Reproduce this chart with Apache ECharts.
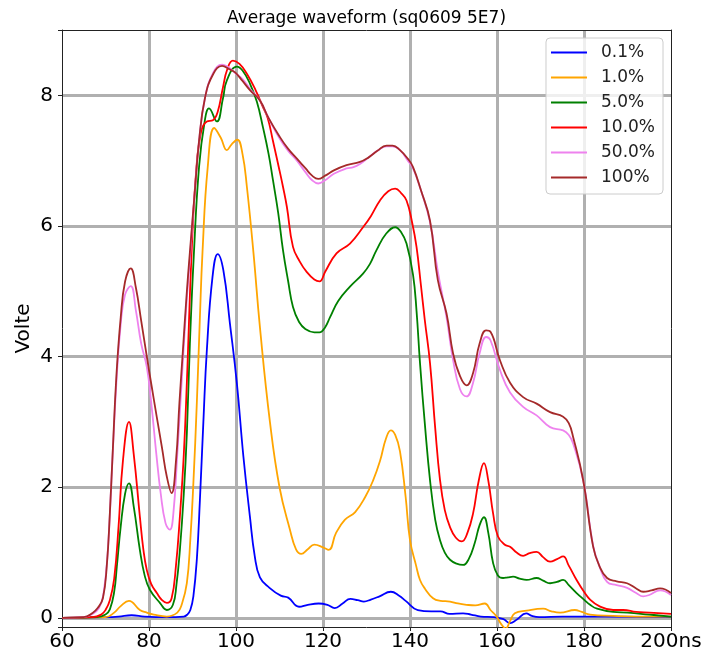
<!DOCTYPE html>
<html>
<head>
<meta charset="utf-8">
<script src="https://cdn.jsdelivr.net/npm/echarts@6/dist/echarts.min.js"></script>
<style>
  html, body { margin: 0; padding: 0; background: #fff; }
  #main { width: 707px; height: 654px; }
</style>
</head>
<body>
<div id="main"></div>
<script>
// legend names and colours
var names = ['0.1%', '1.0%', '5.0%', '10.0%', '50.0%', '100%'];
var colors = ['#0000ff', '#ffa500', '#008000', '#ff0000', '#ee82ee', '#a52a2a'];

// 0.1%
var tBlue = [60, 70, 73, 76, 79, 84, 88, 88.8, 89.5, 90.2, 91, 91.7, 92.5, 93.3, 94.6, 95.8, 97.1, 98.6, 100.2, 101.7, 103.2, 104.3, 105.5, 107.7, 110.3, 112, 114.5, 116.5, 119, 121, 122.7, 124.5, 126.3, 128, 129.4, 131, 133, 135.6, 137.5, 139, 141.8, 144.9, 147, 149.1, 152.2, 154, 156.3, 159.3, 161.5, 163, 164.5, 166.7, 168, 169.7, 175, 185, 200];
var vBlue = [0, 0.01, 0.02, 0.04, 0.02, 0.01, 0.02, 0.05, 0.12, 0.33, 0.9, 1.8, 3.0, 4.1, 5.22, 5.57, 5.32, 4.51, 3.59, 2.47, 1.55, 0.95, 0.62, 0.46, 0.34, 0.31, 0.17, 0.2, 0.22, 0.2, 0.15, 0.22, 0.29, 0.27, 0.25, 0.28, 0.33, 0.4, 0.34, 0.26, 0.12, 0.1, 0.1, 0.06, 0.07, 0.05, 0.02, 0.01, -0.02, -0.08, -0.03, 0.07, 0.03, 0.01, 0.02, 0.02, 0.01];

// 1.0%
var tOrange = [60, 70, 72, 73.5, 75.4, 77.9, 79.5, 81.1, 84.1, 86.5, 87.5, 88.7, 89.5, 90.2, 91, 91.7, 92.3, 93.5, 95, 96.5, 97.9, 99, 100.3, 101.5, 102.5, 104, 105.5, 107.8, 110, 112.4, 113.8, 115, 116.5, 118, 120, 121.3, 123, 125, 127.4, 129.7, 131.5, 133.1, 134.5, 135.6, 136.6, 137.7, 139, 140, 141.4, 142.3, 143.4, 145.3, 147, 149.2, 151, 153, 155, 157.2, 158.5, 159.9, 161, 162, 163, 164.1, 166.8, 170.6, 172.5, 174.5, 177.9, 179.5, 181.4, 186.7, 192, 200];
var vOrange = [0, 0.01, 0.08, 0.18, 0.26, 0.12, 0.08, 0.05, 0.02, 0.08, 0.2, 0.53, 1.2, 2.06, 3.3, 4.6, 5.6, 6.9, 7.5, 7.35, 7.16, 7.25, 7.32, 7.1, 6.6, 5.6, 4.45, 3.0, 2.0, 1.35, 1.05, 0.98, 1.05, 1.12, 1.08, 1.04, 1.3, 1.5, 1.62, 1.85, 2.1, 2.4, 2.75, 2.87, 2.8, 2.55, 1.85, 1.19, 0.8, 0.58, 0.45, 0.3, 0.26, 0.25, 0.22, 0.2, 0.19, 0.22, 0.12, 0.02, -0.1, -0.16, -0.05, 0.07, 0.11, 0.14, 0.1, 0.08, 0.12, 0.09, 0.05, 0.03, 0.02, 0.02];

// 5.0%
var tGreen = [60, 68, 70, 71, 72, 72.6, 73.5, 74.5, 75.4, 76.5, 77.9, 79, 80.2, 82.5, 84.1, 85.5, 86.3, 87.1, 88, 88.7, 89.4, 90.3, 91.5, 92.8, 93.8, 95.6, 97, 97.9, 100.2, 101.5, 103.2, 104.8, 106.2, 107.5, 108.5, 109.7, 110.8, 112, 113.1, 114.5, 116, 118, 119.2, 120.5, 121.6, 123.5, 126.2, 129.2, 130.8, 132.3, 134.5, 136.6, 138, 139.2, 140.7, 141.5, 142.3, 143.5, 144.6, 145.8, 146.9, 148, 149.2, 150.7, 152.2, 153.5, 154.9, 156, 157, 158, 159.1, 160.2, 161.4, 162.5, 163.7, 165.2, 166.8, 169.1, 170.6, 172.2, 173.8, 175.2, 176.5, 178.3, 180, 181.4, 183, 186.7, 190, 195, 200];
var vGreen = [0, 0.01, 0.05, 0.13, 0.4, 0.78, 1.4, 1.9, 2.06, 1.7, 1.04, 0.65, 0.43, 0.23, 0.12, 0.2, 0.5, 1.04, 1.9, 2.82, 4.2, 5.55, 6.9, 7.6, 7.8, 7.6, 7.95, 8.23, 8.44, 8.38, 8.18, 7.9, 7.51, 7.1, 6.7, 6.2, 5.63, 5.15, 4.76, 4.53, 4.42, 4.37, 4.37, 4.45, 4.6, 4.85, 5.07, 5.27, 5.42, 5.63, 5.88, 5.98, 5.9, 5.73, 5.25, 4.7, 3.9, 2.9, 2.11, 1.5, 1.19, 1.0, 0.89, 0.83, 0.81, 0.9, 1.15, 1.42, 1.54, 1.3, 0.84, 0.65, 0.61, 0.62, 0.63, 0.6, 0.58, 0.61, 0.57, 0.53, 0.55, 0.58, 0.5, 0.38, 0.28, 0.2, 0.14, 0.09, 0.08, 0.05, 0.02];

// 10.0%
var tRed = [60, 67, 69, 70, 71, 72, 73, 74, 75.4, 76.5, 77.9, 78.7, 79.5, 80.5, 81.8, 83, 84.1, 85.2, 86.2, 87.1, 88, 88.7, 89.8, 90.8, 92, 93.3, 94.7, 95.8, 97, 98, 99.3, 100.8, 102.5, 104.5, 106.2, 107.3, 108.5, 110, 110.8, 111.7, 113.1, 114.7, 116.2, 118, 119.2, 120.5, 123.1, 126.2, 129.2, 131, 133.1, 135, 136.6, 138, 139.2, 140.5, 141.5, 142.5, 143.4, 144.6, 145.8, 146.9, 148, 149.2, 150.5, 151.9, 153.2, 154.5, 155.8, 157, 158, 159.1, 160.2, 161.8, 163, 164.5, 166, 167.5, 169.1, 170.6, 172.2, 173.8, 175.2, 176.5, 178.3, 180, 181.4, 183.5, 186.7, 189, 192, 195, 200];
var vRed = [0, 0.01, 0.05, 0.12, 0.27, 0.6, 1.4, 2.4, 3.0, 2.5, 1.55, 1.05, 0.73, 0.52, 0.38, 0.27, 0.23, 0.3, 0.8, 1.55, 2.5, 3.6, 5.6, 6.8, 7.45, 7.6, 7.62, 7.75, 8.12, 8.4, 8.53, 8.48, 8.33, 8.08, 7.82, 7.65, 7.3, 6.85, 6.6, 6.29, 5.68, 5.45, 5.3, 5.18, 5.15, 5.3, 5.58, 5.73, 5.98, 6.15, 6.39, 6.53, 6.57, 6.5, 6.39, 6.05, 5.68, 5.1, 4.56, 3.9, 2.9, 2.11, 1.65, 1.39, 1.23, 1.17, 1.3, 1.6, 2.1, 2.37, 2.1, 1.6, 1.25, 1.12, 1.09, 1.0, 0.95, 0.99, 1.01, 0.93, 0.86, 0.9, 0.94, 0.8, 0.58, 0.4, 0.28, 0.18, 0.12, 0.12, 0.09, 0.08, 0.06];

// 50.0%
var tViolet = [60, 65, 67, 68.5, 69.5, 70.5, 71.5, 72.5, 73.5, 74.5, 75.8, 77, 78.2, 79.5, 80.5, 81.7, 82.7, 83.8, 84.8, 85.6, 86.5, 87.5, 88.5, 89.4, 90.5, 91.5, 92.9, 94.8, 96.8, 98.5, 100, 101.5, 103.2, 105.5, 107.5, 110.1, 112, 114, 116, 117.5, 118.9, 120.5, 122.5, 125.4, 127, 128.5, 130.5, 132.5, 134.6, 136, 137.7, 139.5, 140.7, 142.5, 144.6, 146.4, 148.4, 149.9, 151.5, 153, 154.5, 156, 157.5, 158.5, 160.7, 163, 166, 169.1, 172.2, 175.2, 176.5, 177.5, 179.8, 182.1, 183.5, 185.3, 187.5, 189.9, 192, 193.6, 195, 197.5, 200];
var vViolet = [0, 0.01, 0.06, 0.15, 0.35, 1.0, 2.3, 3.6, 4.5, 4.95, 5.08, 4.7, 4.2, 3.84, 3.3, 2.5, 1.9, 1.45, 1.35, 1.6, 2.5, 3.6, 4.7, 5.5, 6.5, 7.3, 7.97, 8.35, 8.47, 8.42, 8.33, 8.25, 8.1, 7.92, 7.65, 7.33, 7.15, 7.0, 6.82, 6.7, 6.65, 6.7, 6.8, 6.88, 6.9, 6.95, 7.05, 7.15, 7.22, 7.22, 7.16, 7.0, 6.88, 6.55, 6.06, 5.3, 4.6, 3.95, 3.5, 3.39, 3.6, 4.05, 4.3, 4.25, 3.79, 3.45, 3.23, 3.1, 2.92, 2.87, 2.8, 2.67, 2.11, 1.1, 0.8, 0.55, 0.5, 0.46, 0.38, 0.33, 0.35, 0.42, 0.35];

// 100%
var tBrown = [60, 65, 67.1, 68.2, 69.4, 70.3, 71, 71.7, 72.5, 73.5, 74.5, 75.8, 77, 78.2, 79.5, 80.6, 81.8, 83, 84.1, 85.2, 86.2, 87, 87.8, 88.6, 89.4, 90.5, 91.5, 92.9, 94.8, 96.8, 98.5, 99.8, 101.5, 103.2, 105.5, 107.5, 110.1, 112, 114, 116, 117.5, 118.9, 120.5, 122.5, 125.4, 128.5, 130.5, 132.5, 134.6, 136, 137.7, 139.5, 140.7, 142.5, 144.6, 146.4, 148.4, 149.9, 151.5, 153, 154.5, 156, 157.5, 158.5, 160.7, 163, 166, 169.1, 172.2, 175.2, 176.5, 177.5, 179.8, 182.1, 183.5, 185.3, 187.5, 189.9, 192, 193.6, 195.5, 197.5, 200];
var vBrown = [0, 0.01, 0.08, 0.15, 0.3, 0.8, 1.6, 2.6, 3.7, 4.6, 5.15, 5.35, 5.05, 4.55, 4.0, 3.55, 3.07, 2.6, 2.16, 1.91, 2.4, 3.3, 4.1, 4.9, 5.6, 6.5, 7.3, 7.97, 8.33, 8.45, 8.4, 8.35, 8.22, 8.08, 7.92, 7.65, 7.36, 7.18, 7.03, 6.88, 6.77, 6.72, 6.77, 6.85, 6.93, 6.98, 7.05, 7.15, 7.23, 7.23, 7.16, 7.03, 6.9, 6.55, 6.08, 5.17, 4.66, 4.05, 3.7, 3.56, 3.75, 4.2, 4.4, 4.38, 3.94, 3.6, 3.38, 3.28, 3.15, 3.08, 2.98, 2.77, 2.11, 1.09, 0.8, 0.61, 0.56, 0.53, 0.45, 0.4, 0.42, 0.45, 0.38];

var allT = [tBlue, tOrange, tGreen, tRed, tViolet, tBrown];
var allV = [vBlue, vOrange, vGreen, vRed, vViolet, vBrown];

var font = 'DejaVu Sans';
var chart = echarts.init(document.getElementById('main'));

var series = names.map(function (n, i) {
  return {
    name: n,
    type: 'line',
    smooth: 0.45,
    symbol: 'none',
    clip: true,
    color: colors[i],
    lineStyle: { width: 1.8, color: colors[i] },
    data: allT[i].map(function (t, k) { return [t, allV[i][k]]; })
  };
});

var option = {
  backgroundColor: '#fff',
  animation: false,
  title: {
    text: 'Average waveform (sq0609 5E7)',
    left: 222,
    top: 5,
    textStyle: { fontFamily: font, fontSize: 17, fontWeight: 'normal', color: '#000' }
  },
  legend: {
    orient: 'vertical',
    right: 44,
    top: 38,
    data: names,
    icon: 'rect',
    itemWidth: 36,
    itemHeight: 2,
    itemGap: 8,
    padding: [6, 8, 8, 5],
    backgroundColor: 'rgba(255,255,255,0.8)',
    borderColor: '#cccccc',
    borderWidth: 1,
    borderRadius: 4,
    textStyle: { fontFamily: font, fontSize: 17, color: '#222', lineHeight: 17, padding: [0, 0, 0, 9] }
  },
  grid: { left: 62, right: 36, top: 30, bottom: 27 },
  xAxis: [{
    type: 'value',
    min: 60,
    max: 200,
    interval: 20,
    axisLine: { show: true, onZero: false, lineStyle: { color: '#222', width: 1 } },
    axisTick: { show: true, length: 4, lineStyle: { color: '#222' } },
    axisLabel: {
      fontFamily: font, fontSize: 20, color: '#000', margin: 5,
      formatter: function (v) { return v === 200 ? '200ns' : String(v); }
    },
    splitLine: { show: true, showMinLine: false, showMaxLine: false, lineStyle: { color: '#b0b0b0', width: 3 } }
  }, {
    type: 'value',
    position: 'top',
    min: 60,
    max: 200,
    axisLine: { show: true, onZero: false, lineStyle: { color: '#222', width: 1 } },
    axisTick: { show: false },
    axisLabel: { show: false },
    splitLine: { show: false }
  }],
  yAxis: [{
    type: 'value',
    min: -0.14,
    max: 9.0,
    name: 'Volte',
    nameLocation: 'middle',
    nameGap: 28,
    nameMoveOverlap: false,
    nameTextStyle: { fontFamily: font, fontSize: 20, color: '#000' },
    axisLine: { show: true, onZero: false, lineStyle: { color: '#222', width: 1 } },
    axisTick: { show: true, length: 4, lineStyle: { color: '#222' } },
    axisLabel: {
      fontFamily: font, fontSize: 20, color: '#000', margin: 9,
      formatter: function (v) { return Math.abs(v % 2) < 1e-9 ? String(Math.round(v)) : ''; }
    },
    splitLine: { show: true, showMinLine: false, showMaxLine: false, lineStyle: { color: '#b0b0b0', width: 3 } }
  }, {
    type: 'value',
    position: 'right',
    min: -0.14,
    max: 9.0,
    axisLine: { show: true, onZero: false, lineStyle: { color: '#222', width: 1 } },
    axisTick: { show: false },
    axisLabel: { show: false },
    splitLine: { show: false }
  }],
  series: series
};

chart.setOption(option);
</script>
</body>
</html>
